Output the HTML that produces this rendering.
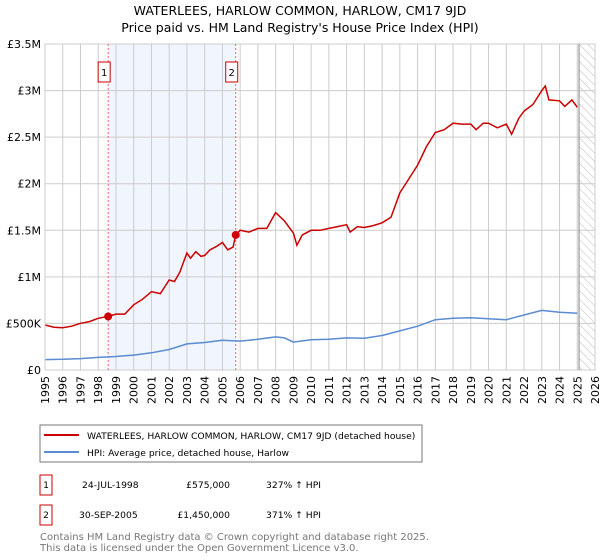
<!DOCTYPE html>
<html><head><meta charset="utf-8"><style>
body{margin:0;background:#fff;font-family:"DejaVu Sans","Liberation Sans",sans-serif;}
#wrap{position:relative;width:600px;height:560px;overflow:hidden}
</style></head><body><div id="wrap">
<svg id="svg" width="600" height="560" xmlns="http://www.w3.org/2000/svg" font-family="DejaVu Sans, Liberation Sans, sans-serif">
<text x="300" y="15" text-anchor="middle" font-size="12.5" fill="#000">WATERLEES, HARLOW COMMON, HARLOW, CM17 9JD</text>
<text x="300" y="32" text-anchor="middle" font-size="12.5" fill="#000">Price paid vs. HM Land Registry's House Price Index (HPI)</text>
<g id="plot"></g>
<rect x="40" y="425" width="382" height="37" fill="#fff" stroke="#777"/>
<line x1="44" y1="435" x2="79" y2="435" stroke="#cc0000" stroke-width="2"/>
<text x="87" y="439" font-size="9.2">WATERLEES, HARLOW COMMON, HARLOW, CM17 9JD (detached house)</text>
<line x1="44" y1="452" x2="79" y2="452" stroke="#5b8bd0" stroke-width="2"/>
<text x="87" y="456" font-size="9.2">HPI: Average price, detached house, Harlow</text>
<g font-size="9.2">
<rect x="40" y="475" width="12" height="20" fill="#fff" stroke="#cc0000"/>
<text x="46" y="488" text-anchor="middle">1</text>
<text x="82" y="488">24-JUL-1998</text><text x="230" y="488" text-anchor="end">£575,000</text><text x="266" y="488">327% ↑ HPI</text>
<rect x="40" y="505" width="12" height="20" fill="#fff" stroke="#cc0000"/>
<text x="46" y="518" text-anchor="middle">2</text>
<text x="79" y="518">30-SEP-2005</text><text x="230" y="518" text-anchor="end">£1,450,000</text><text x="266" y="518">371% ↑ HPI</text>
</g>
<text x="40" y="540" font-size="10" fill="#777">Contains HM Land Registry data © Crown copyright and database right 2025.</text>
<text x="40" y="551" font-size="10" fill="#777">This data is licensed under the Open Government Licence v3.0.</text>
</svg></div>
<script>
const yearTicks=[1995,1996,1997,1998,1999,2000,2001,2002,2003,2004,2005,2006,2007,2008,2009,2010,2011,2012,2013,2014,2015,2016,2017,2018,2019,2020,2021,2022,2023,2024,2025,2026];
const valueTicks=[0,500000,1000000,1500000,2000000,2500000,3000000,3500000];
const valueTickLabels=["£0","£500K","£1M","£1.5M","£2M","£2.5M","£3M","£3.5M"];
const saleYears=[1998.56,2005.75];
const salePrices=[575000,1450000];
const saleLabels=["1","2"];
const priceYears=[1995,1995.5,1996,1996.5,1997,1997.5,1998,1998.56,1999,1999.5,2000,2000.5,2001,2001.5,2002,2002.3,2002.6,2003,2003.2,2003.5,2003.8,2004,2004.3,2004.7,2005,2005.3,2005.6,2005.75,2006,2006.5,2007,2007.5,2008,2008.5,2009,2009.2,2009.5,2010,2010.5,2011,2011.5,2012,2012.2,2012.6,2013,2013.5,2014,2014.5,2015,2015.5,2016,2016.5,2017,2017.5,2018,2018.5,2019,2019.3,2019.7,2020,2020.5,2021,2021.3,2021.7,2022,2022.5,2023,2023.2,2023.4,2024,2024.3,2024.7,2025];
const priceValues=[483,460,454,470,501,520,555,575,600,600,700,760,841,820,966,950,1050,1256,1200,1270,1220,1230,1290,1330,1370,1290,1320,1450,1500,1480,1520,1520,1690,1600,1470,1340,1450,1500,1500,1520,1540,1560,1480,1540,1530,1550,1580,1640,1900,2050,2200,2400,2550,2580,2650,2640,2640,2580,2650,2650,2600,2640,2530,2700,2780,2850,3000,3050,2900,2890,2830,2900,2820].map(v=>v*1000);
const hpiYears=[1995,1996,1997,1998,1999,2000,2001,2002,2003,2004,2005,2006,2007,2008,2008.5,2009,2010,2011,2012,2013,2014,2015,2016,2017,2018,2019,2020,2021,2022,2023,2024,2025];
const hpiValues=[112,115,122,135,145,160,185,220,280,295,320,310,330,355,345,300,325,330,345,340,370,420,470,540,555,560,550,540,590,640,620,610].map(v=>v*1000);
const X0=45,X1=595,Y0=370,Y1=44;
const xs=y=>X0+(y-1995)/(2026-1995)*(X1-X0);
const ys=v=>Y0-v/3500000*(Y0-Y1);
const NS="http://www.w3.org/2000/svg";
const g=document.getElementById('plot');
function mk(t,a,p){const e=document.createElementNS(NS,t);for(const k in a)e.setAttribute(k,a[k]);(p||g).appendChild(e);return e;}
let band=mk('rect',{x:xs(saleYears[0]),y:Y1,width:xs(saleYears[1])-xs(saleYears[0]),height:Y0-Y1,fill:'#eef3fc',opacity:0.8});


const defs=mk('defs',{});
const pat=mk('pattern',{id:'hatch',width:6,height:6,patternUnits:'userSpaceOnUse',patternTransform:'rotate(-45)'},defs);
mk('line',{x1:0,y1:0,x2:0,y2:6,stroke:'#bbb','stroke-width':1},pat);
let hx=xs(2025.1);
let hat=mk('rect',{x:hx,y:Y1,width:X1-hx,height:Y0-Y1,fill:'url(#hatch)'});


yearTicks.forEach(y=>{
  const l=mk('line',{x1:xs(y),x2:xs(y),y1:Y1,y2:Y0,stroke:'#ccc'});
  
  
  const t=mk('text',{x:0,y:0,'font-size':11,'text-anchor':'end',transform:`translate(${xs(y)+4},${Y0+6}) rotate(-90)`});
  t.textContent=y;
  
  
});
valueTicks.forEach((v,i)=>{
  const l=mk('line',{x1:X0,x2:X1,y1:ys(v),y2:ys(v),stroke:'#ccc'});
  
  
  const t=mk('text',{x:X0-4,y:ys(v)+4,'font-size':11,'text-anchor':'end'});
  t.textContent=valueTickLabels[i];
  
  
});
let vl=mk('line',{x1:hx,x2:hx,y1:Y1,y2:Y0,stroke:'#999','stroke-width':1.2});


saleYears.forEach((y,i)=>{
  const l=mk('line',{x1:xs(y),x2:xs(y),y1:Y1,y2:Y0,stroke:'#ee6666','stroke-dasharray':'2,2'});
  
  
  const r=mk('rect',{x:xs(y)-10,y:62,width:12,height:20,fill:'#fff',stroke:'#cc0000'});
  
  
  const t=mk('text',{x:xs(y)-4,y:76,'font-size':10,'text-anchor':'middle'});
  t.textContent=saleLabels[i];
  
  
});
const pts=(xa,va)=>xa.map((x,i)=>xs(x).toFixed(1)+','+ys(va[i]).toFixed(1)).join(' ');
let hp=mk('polyline',{points:pts(hpiYears,hpiValues),fill:'none',stroke:'#5b8bd0','stroke-width':1.5});


let pp=mk('polyline',{points:pts(priceYears,priceValues),fill:'none',stroke:'#cc0000','stroke-width':1.5});


saleYears.forEach((y,i)=>{
  const c=mk('circle',{cx:xs(y),cy:ys(salePrices[i]),r:4,fill:'#cc0000'});
  
  
});
let ax=mk('line',{x1:X0,x2:X0,y1:Y1,y2:Y0,stroke:'#ccc'});


</script></body></html>
